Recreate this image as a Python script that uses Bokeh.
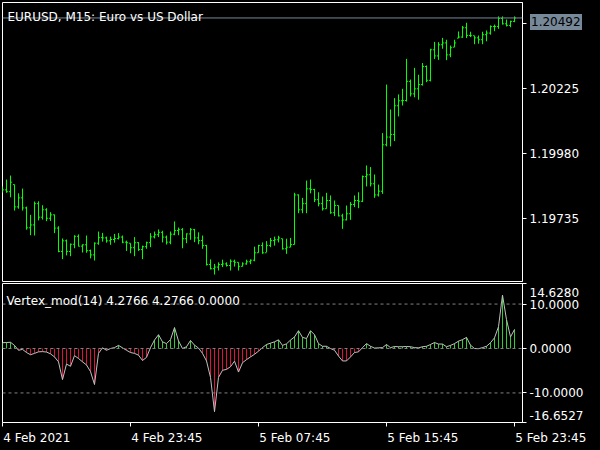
from bokeh.plotting import figure
from bokeh.layouts import column
from bokeh.models import Range1d, FixedTicker, Span, Label, Div, GlobalInlineStyleSheet
from bokeh.embed import file_html
from bokeh.resources import INLINE

# ---- data (EURUSD M15, 4 Feb 2021 15:45 .. 5 Feb 2021 23:45) ----
opens = [1.19845, 1.19844, 1.19837, 1.19864, 1.19780, 1.19814, 1.19776, 1.19701, 1.19712, 1.19792,
         1.19741, 1.19769, 1.19737, 1.19750, 1.19700, 1.19612, 1.19652, 1.19612, 1.19639, 1.19669,
         1.19632, 1.19637, 1.19615, 1.19599, 1.19643, 1.19664, 1.19663, 1.19652, 1.19657, 1.19661,
         1.19666, 1.19647, 1.19643, 1.19626, 1.19645, 1.19619, 1.19630, 1.19645, 1.19667, 1.19675,
         1.19684, 1.19666, 1.19647, 1.19677, 1.19691, 1.19694, 1.19660, 1.19678, 1.19694, 1.19663,
         1.19653, 1.19634, 1.19563, 1.19547, 1.19553, 1.19563, 1.19565, 1.19559, 1.19575, 1.19571,
         1.19556, 1.19565, 1.19573, 1.19579, 1.19607, 1.19634, 1.19607, 1.19634, 1.19653, 1.19656,
         1.19660, 1.19622, 1.19628, 1.19638, 1.19825, 1.19769, 1.19792, 1.19848, 1.19845, 1.19807,
         1.19792, 1.19773, 1.19804, 1.19758, 1.19785, 1.19746, 1.19731, 1.19754, 1.19789, 1.19804,
         1.19801, 1.19894, 1.19901, 1.19867, 1.19825, 1.19839, 1.20014, 1.20043, 1.20053, 1.20161,
         1.20180, 1.20181, 1.20253, 1.20206, 1.20225, 1.20241, 1.20309, 1.20257, 1.20372, 1.20349,
         1.20391, 1.20398, 1.20353, 1.20382, 1.20416, 1.20420, 1.20455, 1.20426, 1.20425, 1.20417,
         1.20410, 1.20429, 1.20435, 1.20460, 1.20460, 1.20490, 1.20470, 1.20464, 1.20479]
highs = [1.19857, 1.19883, 1.19898, 1.19864, 1.19831, 1.19849, 1.19781, 1.19750, 1.19800, 1.19801,
         1.19786, 1.19775, 1.19760, 1.19751, 1.19707, 1.19661, 1.19657, 1.19642, 1.19673, 1.19676,
         1.19639, 1.19672, 1.19619, 1.19646, 1.19687, 1.19682, 1.19668, 1.19668, 1.19678, 1.19681,
         1.19672, 1.19653, 1.19643, 1.19666, 1.19647, 1.19634, 1.19649, 1.19681, 1.19687, 1.19695,
         1.19690, 1.19672, 1.19687, 1.19725, 1.19702, 1.19700, 1.19680, 1.19700, 1.19697, 1.19684,
         1.19672, 1.19637, 1.19582, 1.19565, 1.19571, 1.19581, 1.19571, 1.19582, 1.19581, 1.19571,
         1.19571, 1.19581, 1.19582, 1.19630, 1.19637, 1.19646, 1.19651, 1.19663, 1.19668, 1.19671,
         1.19660, 1.19660, 1.19663, 1.19833, 1.19827, 1.19814, 1.19879, 1.19883, 1.19848, 1.19835,
         1.19819, 1.19833, 1.19823, 1.19804, 1.19785, 1.19754, 1.19785, 1.19798, 1.19823, 1.19835,
         1.19898, 1.19936, 1.19930, 1.19902, 1.19864, 1.20058, 1.20241, 1.20147, 1.20190, 1.20204,
         1.20225, 1.20338, 1.20260, 1.20304, 1.20278, 1.20322, 1.20313, 1.20376, 1.20402, 1.20401,
         1.20417, 1.20410, 1.20388, 1.20410, 1.20441, 1.20462, 1.20474, 1.20440, 1.20425, 1.20426,
         1.20440, 1.20445, 1.20464, 1.20467, 1.20498, 1.20498, 1.20486, 1.20482, 1.20498]
lows = [1.19834, 1.19833, 1.19816, 1.19766, 1.19773, 1.19766, 1.19694, 1.19673, 1.19672, 1.19729,
        1.19732, 1.19726, 1.19727, 1.19681, 1.19609, 1.19583, 1.19597, 1.19594, 1.19624, 1.19631,
        1.19608, 1.19607, 1.19586, 1.19578, 1.19637, 1.19649, 1.19645, 1.19637, 1.19645, 1.19657,
        1.19643, 1.19614, 1.19605, 1.19594, 1.19614, 1.19583, 1.19622, 1.19628, 1.19661, 1.19666,
        1.19646, 1.19638, 1.19639, 1.19673, 1.19673, 1.19624, 1.19643, 1.19656, 1.19647, 1.19639,
        1.19622, 1.19559, 1.19544, 1.19525, 1.19540, 1.19553, 1.19555, 1.19540, 1.19555, 1.19540,
        1.19555, 1.19562, 1.19564, 1.19575, 1.19607, 1.19603, 1.19609, 1.19628, 1.19634, 1.19646,
        1.19619, 1.19603, 1.19628, 1.19638, 1.19756, 1.19756, 1.19756, 1.19831, 1.19798, 1.19782,
        1.19766, 1.19773, 1.19754, 1.19745, 1.19744, 1.19697, 1.19729, 1.19731, 1.19779, 1.19775,
        1.19798, 1.19857, 1.19857, 1.19814, 1.19819, 1.19829, 1.20008, 1.20008, 1.20028, 1.20121,
        1.20162, 1.20177, 1.20196, 1.20193, 1.20184, 1.20237, 1.20250, 1.20253, 1.20337, 1.20334,
        1.20376, 1.20333, 1.20344, 1.20382, 1.20416, 1.20417, 1.20416, 1.20420, 1.20393, 1.20395,
        1.20393, 1.20404, 1.20429, 1.20442, 1.20451, 1.20467, 1.20460, 1.20457, 1.20476]
closes = [1.19844, 1.19837, 1.19873, 1.19780, 1.19814, 1.19776, 1.19701, 1.19712, 1.19792, 1.19741,
          1.19769, 1.19737, 1.19750, 1.19700, 1.19612, 1.19652, 1.19612, 1.19639, 1.19669, 1.19632,
          1.19637, 1.19615, 1.19599, 1.19643, 1.19664, 1.19663, 1.19652, 1.19657, 1.19661, 1.19666,
          1.19647, 1.19645, 1.19626, 1.19645, 1.19619, 1.19630, 1.19645, 1.19667, 1.19675, 1.19684,
          1.19666, 1.19647, 1.19677, 1.19691, 1.19694, 1.19660, 1.19678, 1.19694, 1.19663, 1.19653,
          1.19634, 1.19563, 1.19547, 1.19553, 1.19563, 1.19565, 1.19559, 1.19575, 1.19571, 1.19556,
          1.19565, 1.19573, 1.19579, 1.19607, 1.19634, 1.19607, 1.19634, 1.19653, 1.19656, 1.19663,
          1.19622, 1.19628, 1.19638, 1.19825, 1.19769, 1.19792, 1.19848, 1.19845, 1.19807, 1.19792,
          1.19773, 1.19804, 1.19758, 1.19785, 1.19746, 1.19731, 1.19754, 1.19789, 1.19804, 1.19801,
          1.19894, 1.19901, 1.19867, 1.19825, 1.19839, 1.20014, 1.20043, 1.20053, 1.20161, 1.20180,
          1.20181, 1.20253, 1.20206, 1.20225, 1.20241, 1.20309, 1.20257, 1.20372, 1.20349, 1.20391,
          1.20398, 1.20353, 1.20380, 1.20398, 1.20420, 1.20455, 1.20426, 1.20425, 1.20417, 1.20410,
          1.20429, 1.20435, 1.20460, 1.20460, 1.20490, 1.20470, 1.20464, 1.20479, 1.20492]
vertex = [1.3, 1.35, 1.4, 0.7, -0.4, -0.2, -0.9, -1.4, -1.1, -0.75,
          -0.7, -0.8, -1.2, -1.9, -3.0, -7.0, -3.5, -4.0, -1.6, -2.25,
          -3.0, -3.7, -5.2, -8.1, -1.1, 0.15, -0.4, 0.0, 0.2, 0.7,
          0.15, -0.4, -0.9, -1.1, -1.5, -2.7, -2.0, 0.2, 1.9, 3.1,
          1.5, 1.1, 2.0, 4.7, 1.7, 0.0, 0.4, 1.8, 0.75, 0.1,
          -1.1, -2.8, -6.5, -14.2, -6.5, -4.9, -4.7, -4.1, -2.85, -5.3,
          -3.2, -2.5, -1.9, -1.3, -0.6, 0.2, 0.9, 1.2, 1.5, 1.95,
          0.7, 1.05, 1.9, 2.6, 4.0, 2.5, 2.25, 4.0, 3.1, 1.1,
          0.5, 0.5, 0.0, -0.4, -1.7, -2.8, -2.8, -1.9, -0.9, -0.75,
          0.2, 1.1, 0.5, 0.1, 0.15, 0.2, 0.9, 0.2, 0.45, 0.4,
          0.4, 0.45, 0.4, 0.2, 0.15, 0.4, 0.5, 0.9, 1.35, 1.0,
          1.0, 0.4, 0.7, 1.1, 1.65, 2.0, 2.5, 0.75, 0.0, -0.05,
          0.2, 0.5, 1.3, 2.4, 4.9, 12.0, 6.5, 2.6, 4.2766]

last_price = 1.20492
price_ticks = [1.19735, 1.19980, 1.20225, 1.20470]
price_labels = ["1.19735", "1.19980", "1.20225", "1.20470"]
# indicator scale: tick marks at the true values, the end labels sit inside the pane
ind_marks = [14.628, 10.0, 0.0, -10.0, -16.6527]
ind_label_pos = [12.6, 10.0, 0.0, -10.0, -15.0]
ind_labels = ["14.6280", "10.0000", "0.0000", "-10.0000", "-16.6527"]
# time scale: tick marks at bars, labels start at the tick
time_marks = [0, 32, 64, 96, 128]
time_label_pos = [8.57, 41.1, 73.1, 105.1, 128]
NB = "\u00a0" * 19
time_labels = ["4 Feb 2021", "4 Feb 23:45", "5 Feb 07:45", "5 Feb 15:45", NB + "5 Feb 23:45"]
levels = [10.0, 0.0, -10.0]

FONT = "DejaVu Sans"
idx = list(range(len(closes)))


def style(p):
    p.background_fill_color = "black"
    p.border_fill_color = "black"
    p.outline_line_color = "white"
    p.outline_line_width = 1
    p.xgrid.visible = False
    p.ygrid.visible = False


def style_axis(ax):
    ax.axis_line_color = "white"
    ax.major_tick_line_color = "white"
    ax.minor_tick_line_color = None
    ax.major_tick_out = 4
    ax.major_tick_in = 0
    ax.minor_tick_out = 4
    ax.minor_tick_in = 0
    ax.major_label_text_color = "white"
    ax.major_label_text_font = FONT
    ax.major_label_text_font_size = "12px"
    ax.major_label_standoff = 3


xr = Range1d(0.0, 130.0)

p1 = figure(width=600, height=282, x_range=xr, y_range=Range1d(1.194987, 1.205503),
            output_backend="svg", toolbar_location=None, x_axis_location=None,
            y_axis_location="right", min_border_left=2, min_border_right=78,
            min_border_top=2, min_border_bottom=1)
style(p1)
ya = p1.yaxis[0]
style_axis(ya)
ya.ticker = FixedTicker(ticks=price_ticks)
ya.major_label_overrides = {t: s for t, s in zip(price_ticks, price_labels)}

p1.add_layout(Span(location=last_price, dimension="width", line_color="#778899", line_width=1))
p1.segment(x0=idx, y0=lows, x1=idx, y1=highs, line_color="#00FF00", line_width=1)
p1.segment(x0=[i - 0.375 for i in idx], y0=opens, x1=idx, y1=opens, line_color="#00FF00", line_width=1)
p1.segment(x0=idx, y0=closes, x1=[i + 0.375 for i in idx], y1=closes, line_color="#00FF00", line_width=1)

p1.add_layout(Label(x=1.25, y=1.20495, text="EURUSD, M15:  Euro vs US Dollar",
                    text_color="white", text_font=FONT, text_font_size="12px",
                    text_baseline="alphabetic", text_align="left"))

p2 = figure(width=600, height=168, x_range=xr, y_range=Range1d(-16.6527, 14.628),
            output_backend="svg", toolbar_location=None, y_axis_location="right",
            min_border_left=2, min_border_right=78, min_border_top=1, min_border_bottom=28)
style(p2)
ya2 = p2.yaxis[0]
style_axis(ya2)
ya2.ticker = FixedTicker(ticks=ind_label_pos, minor_ticks=ind_marks)
ya2.major_label_overrides = {t: s for t, s in zip(ind_label_pos, ind_labels)}
ya2.major_tick_line_color = None
ya2.minor_tick_line_color = "white"

xa = p2.xaxis[0]
style_axis(xa)
xa.ticker = FixedTicker(ticks=time_label_pos, minor_ticks=time_marks)
xa.major_label_overrides = {t: s for t, s in zip(time_label_pos, time_labels)}
xa.major_tick_line_color = None
xa.minor_tick_line_color = "white"
xa.major_label_standoff = 4

for lv in levels:
    p2.add_layout(Span(location=lv, dimension="width", line_color="#808080",
                       line_width=1, line_dash="3 3"))
hist_colors = ["#32CD32" if v > 0 else "#DC143C" for v in vertex]
p2.segment(x0=idx, y0=[0.0] * len(vertex), x1=idx, y1=vertex, line_color=hist_colors, line_width=1)
p2.line(idx, vertex, line_color="#C0C0C0", line_width=1)

p2.add_layout(Label(x=1.0, y=10.8, text="Vertex_mod(14) 4.2766 4.2766 0.0000",
                    text_color="white", text_font=FONT, text_font_size="12px",
                    text_baseline="alphabetic", text_align="left"))

price_box = Div(text=f"{last_price:.5f}",
                styles={"position": "fixed", "left": "525px", "top": "9px",
                        "background-color": "#778899", "color": "#000000",
                        "font-family": "DejaVu Sans", "font-size": "12px",
                        "line-height": "16px", "padding": "0px 1px", "z-index": "10"})

layout = column(p1, p2, price_box, spacing=0)
layout.stylesheets = [GlobalInlineStyleSheet(css="body { background: #000000; }")]

open("out.html", "w").write(file_html(layout, INLINE))
